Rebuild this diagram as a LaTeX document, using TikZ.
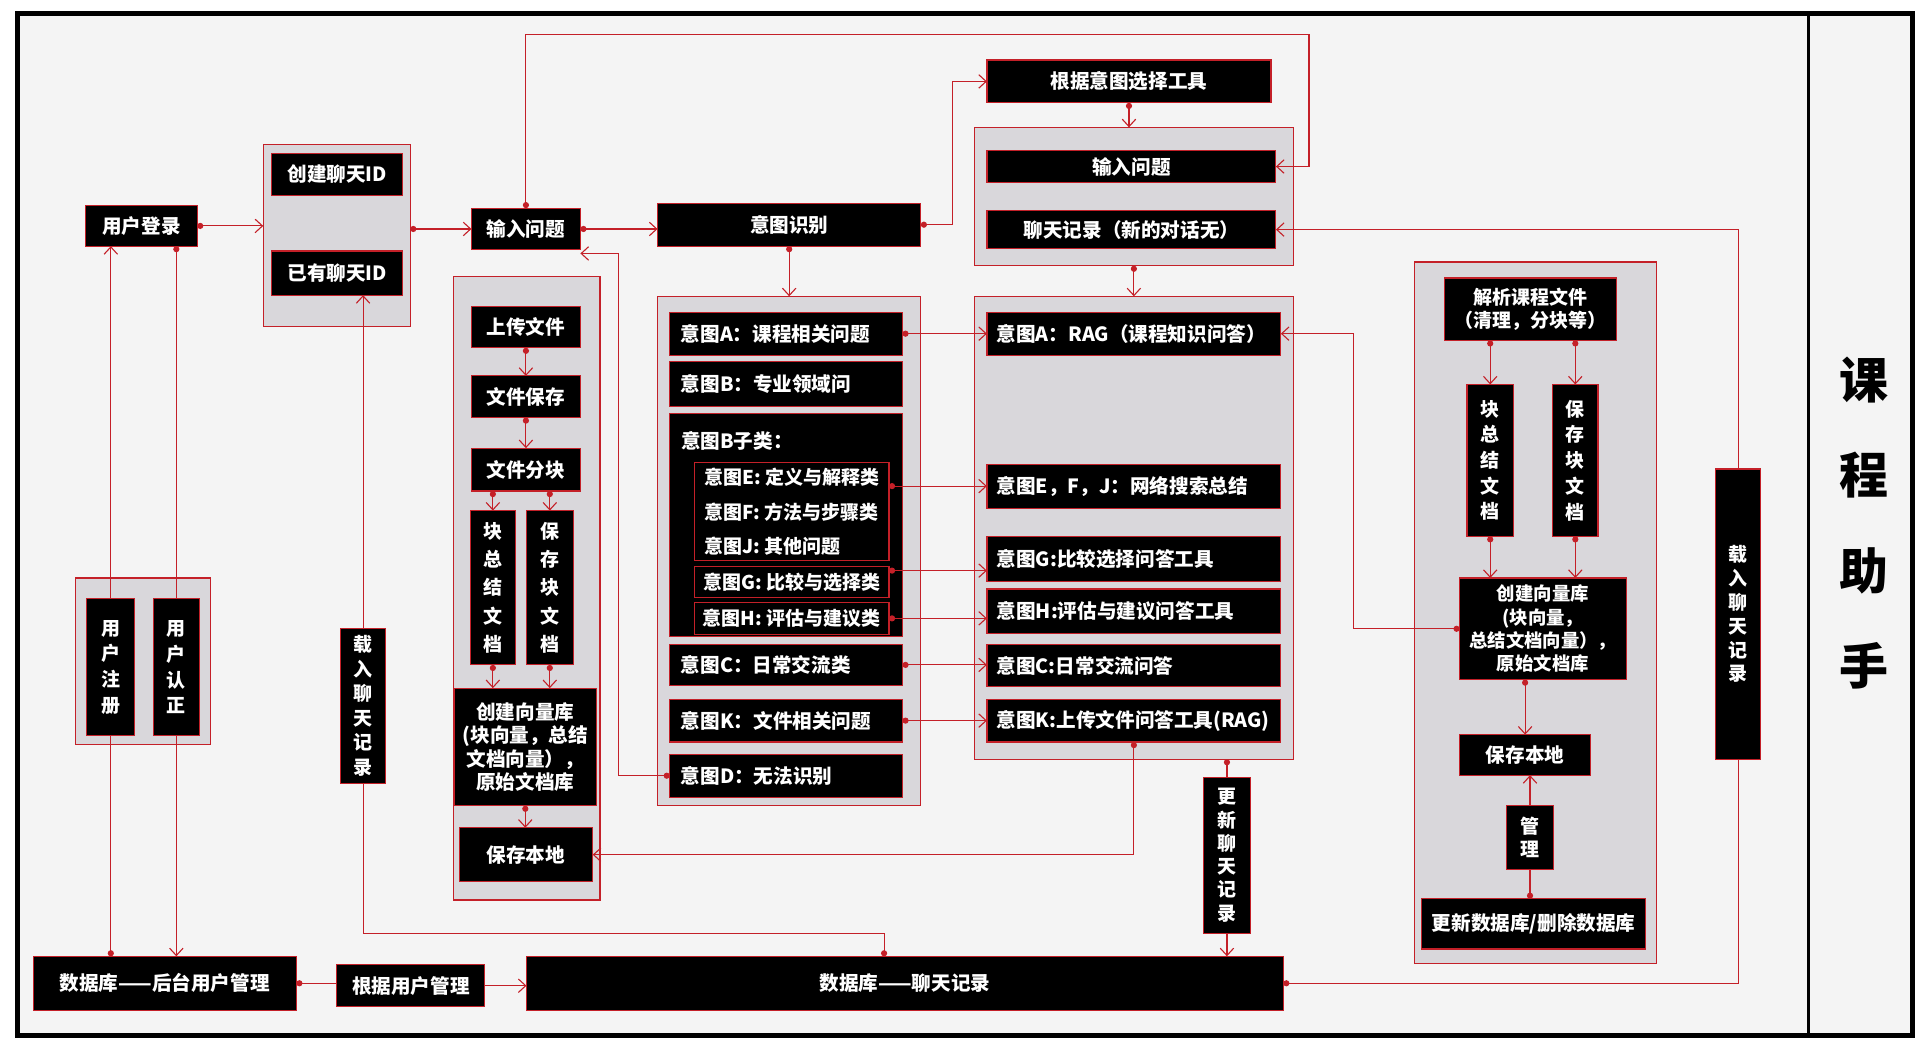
\documentclass[tikz,border=0pt]{standalone}
\usepackage{fontspec}
\setmainfont{Noto Sans CJK SC}
\usetikzlibrary{arrows.meta}

\definecolor{lnred}{RGB}{196,32,40}
\definecolor{grpgray}{RGB}{217,215,219}
\definecolor{paper}{RGB}{244,244,244}

\tikzset{
  blk/.style={draw=lnred, line width=0.9pt, fill=black, text=white, inner sep=0pt, outer sep=0pt,
    anchor=north west, align=center, font=\bfseries\fontsize{16}{19}\selectfont},
  vblk/.style={blk, font=\bfseries\fontsize{15.5}{#1}\selectfont},
  lblk/.style={blk, align=left, text width=#1},
  grp/.style={draw=lnred, line width=0.9pt, fill=grpgray, inner sep=0pt, outer sep=0pt, anchor=north west},
  dotarrow/.style={draw=lnred, line width=0.9pt, {Circle[length=5pt]}-{Straight Barb[length=6pt,width=11pt]}},
  dotline/.style={draw=lnred, line width=0.9pt, {Circle[length=5pt]}-},
  toarrow/.style={draw=lnred, line width=0.9pt, -{Straight Barb[length=6pt,width=11pt]}}
}

\begin{document}
\begin{tikzpicture}[x=1pt,y=1pt,yscale=-1]
\useasboundingbox (0,0) rectangle (1568,856);
\fill[white] (0,0) rectangle (1568,856);

%Shape: frame
\draw[line width=4pt, fill=paper] (14,11) rectangle (1562,846);
\draw[line width=3pt] (1477,11) -- (1477,846);

% Text Node: title
\node[font=\bfseries\fontsize{40}{78}\selectfont, align=center] (title) at (1522,427) {课\\程\\助\\手};

%Shape: groups
\node[grp, minimum width=110pt, minimum height=136pt] (ragrp) at (62,472) {};
\node[grp, minimum width=120pt, minimum height=149pt] (idgrp) at (215,118) {};
\node[grp, minimum width=120pt, minimum height=509pt] (upgrp) at (370,226) {};
\node[grp, minimum width=215pt, minimum height=416pt] (intgrp) at (537,242) {};
\node[grp, minimum width=260pt, minimum height=113pt] (askgrp) at (796,104) {};
\node[grp, minimum width=260pt, minimum height=378pt] (toolgrp) at (796,242) {};
\node[grp, minimum width=198pt, minimum height=573pt] (crsgrp) at (1155,214) {};

% user side
\node[blk, minimum width=91pt, minimum height=33pt] (login) at (70,168) {用户登录};
\node[vblk=21pt, minimum width=39pt, minimum height=112pt] (regbox) at (71,489) {用\\户\\注\\册};
\node[vblk=21pt, minimum width=38pt, minimum height=112pt] (authbox) at (125,489) {用\\户\\认\\正};
\node[blk, minimum width=215pt, minimum height=44pt] (userdb) at (27,781) {数据库——后台用户管理};
\node[blk, minimum width=121pt, minimum height=34pt] (bymgr) at (275,788) {根据用户管理};
\node[blk, minimum width=618pt, minimum height=44pt] (chatdb) at (430,781) {数据库——聊天记录};

% chat id
\node[blk, minimum width=107pt, minimum height=35pt] (newid) at (222,125) {创建聊天ID};
\node[blk, minimum width=107pt, minimum height=36pt] (oldid) at (222,205) {已有聊天ID};
\node[vblk=20pt, minimum width=37pt, minimum height=127pt] (loadl) at (278,513) {载\\入\\聊\\天\\记\\录};
\node[blk, minimum width=89pt, minimum height=34pt] (ask) at (385,170) {输入问题};

% upload
\node[blk, minimum width=89pt, minimum height=34pt] (upload) at (385,250) {上传文件};
\node[blk, minimum width=89pt, minimum height=34pt] (fsave) at (385,307) {文件保存};
\node[blk, minimum width=89pt, minimum height=35pt] (fsplit) at (385,366) {文件分块};
\node[vblk=23pt, minimum width=37pt, minimum height=126pt] (sumdoc) at (384,417) {块\\总\\结\\文\\档};
\node[vblk=23pt, minimum width=38pt, minimum height=126pt] (blkdoc) at (430,417) {保\\存\\块\\文\\档};
\node[blk, minimum width=116pt, minimum height=96pt] (mkvec) at (371,562) {创建向量库\\(块向量，总结\\文档向量），\\原始文档库};
\node[blk, minimum width=109pt, minimum height=44pt] (savel) at (375,676) {保存本地};

% intents
\node[blk, minimum width=215pt, minimum height=35pt] (recog) at (537,166) {意图识别};
\node[lblk=172pt, minimum width=190pt, minimum height=35pt] (intA) at (547,255) {意图A：课程相关问题};
\node[lblk=172pt, minimum width=190pt, minimum height=37pt] (intB) at (547,295) {意图B：专业领域问};
\node[blk, minimum width=190pt, minimum height=182pt] (intBsub) at (547,338) {};
\node[anchor=west, text=white, inner sep=0pt, font=\bfseries\fontsize{16}{19}\selectfont] (intBtxt) at (556,360) {意图B子类：};
\node[blk, align=left, minimum width=159pt, minimum height=80pt, font=\bfseries\fontsize{15.5}{28}\selectfont] (subEFJ) at (567,378) {意图E: 定义与解释类\\意图F: 方法与步骤类\\意图J: 其他问题\hspace{3.1em}};
\node[blk, minimum width=159pt, minimum height=25pt, font=\bfseries\fontsize{15.5}{19}\selectfont] (subG) at (567,463) {意图G: 比较与选择类};
\node[blk, minimum width=159pt, minimum height=26pt, font=\bfseries\fontsize{15.5}{19}\selectfont] (subH) at (567,492) {意图H: 评估与建议类};
\node[lblk=172pt, minimum width=190pt, minimum height=34pt] (intC) at (547,526) {意图C：日常交流类};
\node[lblk=172pt, minimum width=190pt, minimum height=35pt] (intK) at (547,571) {意图K：文件相关问题};
\node[lblk=172pt, minimum width=190pt, minimum height=35pt] (intD) at (547,616) {意图D：无法识别};

% tools
\node[blk, minimum width=232pt, minimum height=35pt] (pick) at (806,49) {根据意图选择工具};
\node[blk, minimum width=236pt, minimum height=26pt] (ask2) at (806,123) {输入问题};
\node[blk, minimum width=236pt, minimum height=31pt] (hist) at (806,172) {聊天记录（新的对话无）};
\node[lblk=224pt, minimum width=240pt, minimum height=35pt] (toolA) at (806,255) {意图A：RAG（课程知识问答）};
\node[lblk=224pt, minimum width=240pt, minimum height=36pt] (toolEFJ) at (806,379) {意图E，F，J：网络搜索总结};
\node[lblk=224pt, minimum width=240pt, minimum height=37pt] (toolG) at (806,438) {意图G:比较选择问答工具};
\node[lblk=224pt, minimum width=240pt, minimum height=36pt] (toolH) at (806,481) {意图H:评估与建议问答工具};
\node[lblk=224pt, minimum width=240pt, minimum height=35pt] (toolC) at (806,526) {意图C:日常交流问答};
\node[lblk=224pt, minimum width=240pt, minimum height=35pt] (toolK) at (806,571) {意图K:上传文件问答工具(RAG)};
\node[vblk=19pt, minimum width=38pt, minimum height=127pt] (updhist) at (983,635) {更\\新\\聊\\天\\记\\录};

% course files
\node[blk, minimum width=140pt, minimum height=51pt, font=\bfseries\fontsize{15.5}{19}\selectfont] (parse) at (1180,227) {解析课程文件\\（清理，分块等）};
\node[vblk=21pt, minimum width=38pt, minimum height=124pt] (csum) at (1198,314) {块\\总\\结\\文\\档};
\node[vblk=21pt, minimum width=37pt, minimum height=124pt] (cblk) at (1268,314) {保\\存\\块\\文\\档};
\node[blk, minimum width=136pt, minimum height=83pt, font=\bfseries\fontsize{15}{19}\selectfont] (cvec) at (1192,472) {创建向量库\\(块向量，\\总结文档向量），\\原始文档库};
\node[blk, minimum width=107pt, minimum height=33pt] (csave) at (1192,600) {保存本地};
\node[vblk=19pt, minimum width=39pt, minimum height=52pt] (mgr) at (1230,658) {管\\理};
\node[blk, minimum width=183pt, minimum height=41pt] (upddb) at (1161,734) {更新数据库/删除数据库};
\node[vblk=19.5pt, minimum width=37pt, minimum height=237pt] (loadr) at (1401,383) {载\\入\\聊\\天\\记\\录};

\coordinate (topbend) at (1069,28);

%Straight Lines
\draw[dotarrow] (login.east) -- (login.east -| idgrp.west);
\draw[dotarrow] (ask.west -| idgrp.east) -- (ask.west);
\draw[dotarrow] (ask.east) -- (ask.east -| recog.west);
\draw[dotarrow] (ask.north) |- (topbend) |- (ask2.east);
\draw[dotarrow] (recog.east) -- ++(26,0) |- (pick.west);
\draw[dotarrow] (pick.south) -- (pick.south |- askgrp.north);
\draw[dotarrow] (askgrp.south) -- (toolgrp.north);
\draw[dotarrow] (recog.south) -- (intgrp.north);
\draw[dotarrow] (intA.east) -- (intA.east -| toolA.west);
\draw[dotarrow] (toolEFJ.west -| subEFJ.east) -- (toolEFJ.west);
\draw[dotarrow] (subG.east |- 0,466) -- (toolG.west |- 0,466);
\draw[dotarrow] (subH.east) -- (subH.east -| toolH.west);
\draw[dotarrow] (intC.east) -- (intC.east -| toolC.west);
\draw[dotarrow] (intK.east) -- (intK.east -| toolK.west);
\draw[dotarrow] (intD.west) -- ++(-42,0) |- ([yshift=3pt]ask.south east);
\draw[dotarrow] (toolK.south) |- (savel.east);
\draw[dotline] (updhist.north |- toolgrp.south) -- (updhist.north);
\draw[toarrow] (updhist.south) -- (updhist.south |- chatdb.north);
\draw[dotline] (chatdb.east) -| (loadr.south);
\draw[toarrow] (loadr.north) |- (hist.east);
\draw[dotline] ([xshift=-17pt]chatdb.north) -- ++(0,-19) -| (loadl.south);
\draw[toarrow] (loadl.north) -- (loadl.north |- oldid.south);
\draw[dotline] (userdb.east) -- (userdb.east -| bymgr.west);
\draw[toarrow] (bymgr.east) -- (bymgr.east -| chatdb.west);
\draw[dotline] (regbox.south |- userdb.north) -- (regbox.south);
\draw[toarrow] (regbox.north) -- (regbox.north |- login.south);
\draw[dotline] (authbox.north |- login.south) -- (authbox.north);
\draw[toarrow] (authbox.south) -- (authbox.south |- userdb.north);
\draw[dotarrow] (upload.south) -- (fsave.north);
\draw[dotarrow] (fsave.south) -- (fsplit.north);
\draw[dotarrow] (sumdoc.north |- fsplit.south) -- (sumdoc.north);
\draw[dotarrow] (blkdoc.north |- fsplit.south) -- (blkdoc.north);
\draw[dotarrow] (sumdoc.south) -- (sumdoc.south |- mkvec.north);
\draw[dotarrow] (blkdoc.south) -- (blkdoc.south |- mkvec.north);
\draw[dotarrow] (mkvec.south) -- (mkvec.south |- savel.north);
\draw[dotarrow] (csum.north |- parse.south) -- (csum.north);
\draw[dotarrow] (cblk.north |- parse.south) -- (cblk.north);
\draw[dotarrow] (csum.south) -- (csum.south |- cvec.north);
\draw[dotarrow] (cblk.south) -- (cblk.south |- cvec.north);
\draw[dotarrow] (cvec.west) -- ++(-87,0) |- (toolA.east);
\draw[dotarrow] (csave.north |- cvec.south) -- (csave.north);
\draw[toarrow] (mgr.north) -- (mgr.north |- csave.south);
\draw[dotline] (mgr.south |- upddb.north) -- (mgr.south);

\end{tikzpicture}
\end{document}
